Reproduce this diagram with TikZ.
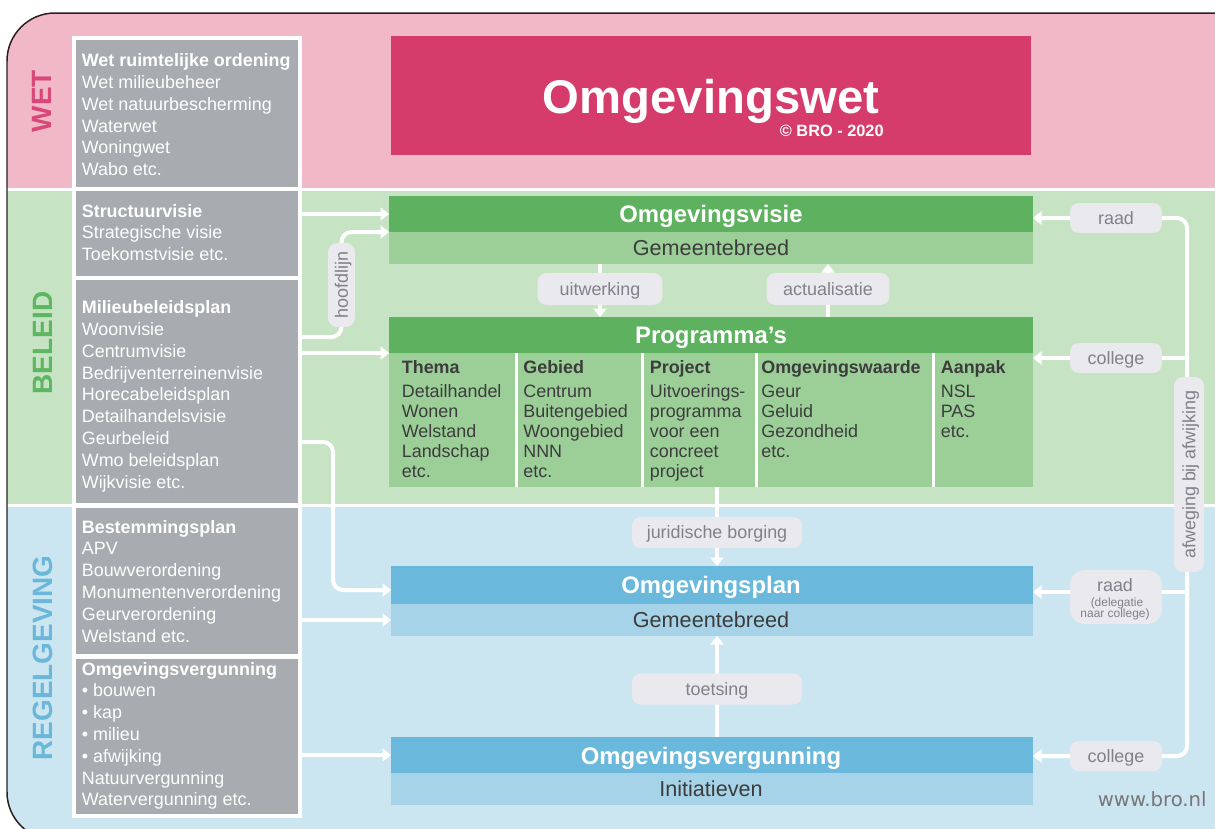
\documentclass[tikz,border=0pt]{standalone}
\usepackage{fontspec}
\setmainfont{Liberation Sans}
\newfontfamily\urlfont{DejaVu Sans}
\usetikzlibrary{arrows.meta,fit}
\pgfdeclarelayer{bg}
\pgfdeclarelayer{lines}
\pgfsetlayers{bg,lines,main}
\definecolor{pinkbg}{HTML}{F1B8C8}
\definecolor{greenbg}{HTML}{C6E3C3}
\definecolor{bluebg}{HTML}{CBE6F1}
\definecolor{wetbox}{HTML}{D63C6B}
\definecolor{dkgreen}{HTML}{5DB15F}
\definecolor{ltgreen}{HTML}{9CCF98}
\definecolor{dkblue}{HTML}{6AB8DC}
\definecolor{ltblue}{HTML}{A6D3E8}
\definecolor{graybox}{HTML}{A8ABB0}
\definecolor{pillbg}{HTML}{E9E9EE}
\definecolor{pilltxt}{HTML}{808189}
\definecolor{darktxt}{HTML}{3C3C3C}
\definecolor{wetred}{HTML}{D9467A}
\definecolor{beleidgreen}{HTML}{5DB660}
\definecolor{regblue}{HTML}{6BB7DA}
\definecolor{framecol}{HTML}{2B1F1F}
\definecolor{urlgray}{HTML}{777777}
\tikzset{
  fitbox/.style={inner sep=0pt, outer sep=0pt, draw=none},
  gtxt/.style={anchor=base west, inner sep=0pt, text=white, font=\fontsize{10.2pt}{12pt}\selectfont},
  gbold/.style={gtxt, font=\fontsize{10.2pt}{12pt}\selectfont\bfseries},
  ttxt/.style={anchor=base west, inner sep=0pt, text=darktxt, font=\fontsize{10.2pt}{12pt}\selectfont},
  tbold/.style={ttxt, font=\fontsize{10.2pt}{12pt}\selectfont\bfseries},
  pill/.style={fill=pillbg, rounded corners=0.18cm, inner sep=0pt, outer sep=0pt, text=pilltxt,
    font=\fontsize{10.2pt}{12pt}\selectfont, text height=7.3pt, text depth=0pt},
  ptxt/.style={anchor=base, inner sep=0pt, text=pilltxt},
  conn/.style={draw=white, line width=0.08cm, rounded corners=0.2cm},
  arr/.style={conn, -{Triangle[width=0.26cm,length=0.17cm]}},
  hd/.style={anchor=base, inner sep=0pt, text=white, font=\fontsize{13.6pt}{16pt}\selectfont\bfseries},
  sb/.style={anchor=base, inner sep=0pt, text=darktxt, font=\fontsize{12.3pt}{14pt}\selectfont},
  side/.style={rotate=90, inner sep=0pt, font=\fontsize{15.9pt}{18pt}\selectfont\bfseries, text height=11.4pt, text depth=0pt},
  sepline/.style={draw=white, line width=0.06cm},
}
\begin{document}
\begin{tikzpicture}[x=0.02cm,y=-0.02cm]
\useasboundingbox (0,0) rectangle (1215,829);
\begin{pgfonlayer}{bg}
\fill[white] (0,0) rectangle (1215,829);
\begin{scope}
\clip[rounded corners=0.96cm] (1320,13) -- (7,13) -- (7,840) -- (1320,840) -- cycle;
\fill[pinkbg] (0,0) rectangle (1320,187.5);
\fill[greenbg] (0,191) rectangle (1320,503.5);
\fill[bluebg] (0,507) rectangle (1320,850);
\end{scope}
\draw[framecol, line width=0.03cm, rounded corners=0.96cm] (1320,13) -- (7,13) -- (7,840) -- (1320,840);
% left column
\node[fitbox, fill=white, fit={(72,36) (302,818)}] (col) {};
\node[fitbox, fill=graybox, fit={(76,40) (298,187)}] (g1) {};
\node[fitbox, fill=graybox, fit={(76,191) (298,276)}] (g2) {};
\node[fitbox, fill=graybox, fit={(76,280) (298,503)}] (g3) {};
\node[fitbox, fill=graybox, fit={(76,508) (298,654)}] (g4) {};
\node[fitbox, fill=graybox, fit={(76,659) (298,814)}] (g5) {};
% central bars
\node[fitbox, fill=wetbox, fit={(391,36) (1031,155)}] (wet) {};
\node[fitbox, fill=dkgreen, fit={(389,196) (1033,232)}] (visie) {};
\node[fitbox, fill=ltgreen, fit={(389,232) (1033,264)}] (visieSub) {};
\node[fitbox, fill=dkgreen, fit={(389,317) (1033,353)}] (prog) {};
\node[fitbox, fill=ltgreen, fit={(389,353) (1033,487)}] (progTab) {};
\node[fitbox, fill=dkblue, fit={(391,566) (1033,604)}] (plan) {};
\node[fitbox, fill=ltblue, fit={(391,604) (1033,636)}] (planSub) {};
\node[fitbox, fill=dkblue, fit={(391,737) (1033,773)}] (verg) {};
\node[fitbox, fill=ltblue, fit={(391,773) (1033,805)}] (vergSub) {};
\foreach \sx in {516,642,756,933}
  \draw[sepline] (progTab.north -| \sx,0) -- (progTab.south -| \sx,0);
\end{pgfonlayer}

% side labels
\node[side, text=wetred] (lwet) at (41,101) {WET};
\node[side, text=beleidgreen] (lbel) at (42,343) {BELEID};
\node[side, text=regblue] (lreg) at (42,658) {REGELGEVING};

% gray column texts
\node[gbold] (w0) at (81.5,66.7) {Wet ruimtelijke ordening};
\foreach \t [count=\i] in {Wet milieubeheer, Wet natuurbescherming, Waterwet, Woningwet, Wabo etc.}
  \node[gtxt] (w\i) at (81.5,{66.7+21.8*\i}) {\t};
\node[gbold] (s0) at (81.5,217) {Structuurvisie};
\foreach \t [count=\i] in {Strategische visie, Toekomstvisie etc.}
  \node[gtxt] (s\i) at (81.5,{217+21.8*\i}) {\t};
\node[gbold] (m0) at (81.5,313.6) {Milieubeleidsplan};
\foreach \t [count=\i] in {Woonvisie, Centrumvisie, Bedrijventerreinenvisie, Horecabeleidsplan, Detailhandelsvisie, Geurbeleid, Wmo beleidsplan, Wijkvisie etc.}
  \node[gtxt] (m\i) at (81.5,{313.6+21.8*\i}) {\t};
\node[gbold] (b0) at (81.5,533) {Bestemmingsplan};
\foreach \t [count=\i] in {APV, Bouwverordening, Monumentenverordening, Geurverordening, Welstand etc.}
  \node[gtxt] (b\i) at (81.5,{533+21.8*\i}) {\t};
\node[gbold] (o0) at (81.5,675) {Omgevingsvergunning};
\foreach \t [count=\i] in {• bouwen, • kap, • milieu, • afwijking, Natuurvergunning, Watervergunning etc.}
  \node[gtxt] (o\i) at (81.5,{675+21.8*\i}) {\t};

% titles
\node[anchor=base, inner sep=0pt, text=white, font=\fontsize{26.9pt}{30pt}\selectfont\bfseries] (wetT) at (711,113) {Omgevingswet};
\node[anchor=base east, inner sep=0pt, text=white, font=\fontsize{9.3pt}{11pt}\selectfont\bfseries] (copy) at (884,136) {© BRO - 2020};
\node[hd] (visieT) at (711,222.5) {Omgevingsvisie};
\node[sb] (visieS) at (711,255.8) {Gemeentebreed};
\node[hd] (progT) at (711,343.5) {Programma’s};
\node[hd] (planT) at (711,593.5) {Omgevingsplan};
\node[sb] (planS) at (711,627.8) {Gemeentebreed};
\node[hd] (vergT) at (711,764) {Omgevingsvergunning};
\node[sb] (vergS) at (711,796.8) {Initiatieven};

% programma table
\node[tbold] (c1h) at (401.5,373) {Thema};
\foreach \t [count=\i] in {Detailhandel, Wonen, Welstand, Landschap, etc.}
  \node[ttxt] (c1\i) at (401.5,{377+20*\i}) {\t};
\node[tbold] (c2h) at (523,373) {Gebied};
\foreach \t [count=\i] in {Centrum, Buitengebied, Woongebied, NNN, etc.}
  \node[ttxt] (c2\i) at (523,{377+20*\i}) {\t};
\node[tbold] (c3h) at (649.5,373) {Project};
\foreach \t [count=\i] in {Uitvoerings-, programma, voor een, concreet, project}
  \node[ttxt] (c3\i) at (649.5,{377+20*\i}) {\t};
\node[tbold] (c4h) at (761,373) {Omgevingswaarde};
\foreach \t [count=\i] in {Geur, Geluid, Gezondheid, etc.}
  \node[ttxt] (c4\i) at (761,{377+20*\i}) {\t};
\node[tbold] (c5h) at (940.5,373) {Aanpak};
\foreach \t [count=\i] in {NSL, PAS, etc.}
  \node[ttxt] (c5\i) at (940.5,{377+20*\i}) {\t};

% pills
\node[pill, minimum width=2.5cm, minimum height=0.64cm] (uitw) at (600,289) {uitwerking};
\node[pill, minimum width=2.46cm, minimum height=0.64cm] (actu) at (828,289) {actualisatie};
\node[pill, minimum width=3.4cm, minimum height=0.62cm] (jur) at (717,532.5) {juridische borging};
\node[pill, minimum width=3.4cm, minimum height=0.62cm] (toets) at (717,689) {toetsing};
\node[pill, rotate=90, minimum width=1.68cm, minimum height=0.54cm] (hoofd) at (341.5,285) {hoofdlijn};
\node[pill, rotate=90, minimum width=3.9cm, minimum height=0.6cm] (afw) at (1189,474.5) {afweging bij afwijking};
\node[pill, minimum width=1.84cm, minimum height=0.6cm] (raad1) at (1116,218) {raad};
\node[pill, minimum width=1.84cm, minimum height=0.6cm] (college1) at (1116,358) {college};
\node[pill, rounded corners=0.3cm, minimum width=1.84cm, minimum height=1.08cm] (raad2) at (1116,597) {};
\node[ptxt, font=\fontsize{10.2pt}{12pt}\selectfont] (raad2a) at (1115,591) {raad};
\node[ptxt, font=\fontsize{6.8pt}{7pt}\selectfont] (raad2b) at (1117,606) {(delegatie};
\node[ptxt, font=\fontsize{6.8pt}{7pt}\selectfont] (raad2c) at (1115,617.5) {naar college)};
\node[pill, minimum width=1.84cm, minimum height=0.6cm] (college2) at (1116,756) {college};

\node[anchor=base east, inner sep=0pt, text=urlgray, font=\urlfont\fontsize{11.2pt}{13pt}\selectfont] (url) at (1207,806) {www.bro.nl};

% connectors
\coordinate (bendA) at (333,442);
\coordinate (planIn) at (391,590);
\coordinate (hlLow) at (302,337);
\coordinate (trunkTop) at (1187,218);
\coordinate (trunkBot) at (1187,756);
\coordinate (r2) at (1187,592);
\begin{pgfonlayer}{lines}
\draw[arr] (col.east |- visie.west) -- (visie.west);
\draw[arr] (hlLow) -| (hoofd.center) |- (visie.south west);
\draw[arr] (col.east |- prog.south west) -- (prog.south west);
\draw[arr] (col.east |- bendA) -- (bendA) |- (planIn);
\draw[arr] (col.east |- planSub.west) -- (planSub.west);
\draw[arr] (col.east |- verg.west) -- (verg.west);
\draw[arr] (uitw |- visieSub.south) -- (uitw |- prog.north);
\draw[arr] (actu |- prog.north) -- (actu |- visieSub.south);
\draw[arr] (jur |- progTab.south) -- (jur |- plan.north);
\draw[arr] (toets |- verg.north) -- (toets |- planSub.south);
\draw[arr] (trunkTop |- afw.center) -- (trunkTop) -- (trunkTop -| visie.east);
\draw[arr] (trunkTop |- afw.center) -- (trunkBot) -- (trunkBot -| verg.east);
\draw[arr] (trunkTop |- college1) -- (college1 -| prog.east);
\draw[arr] (r2) -- (r2 -| plan.east);
\end{pgfonlayer}
\end{tikzpicture}
\end{document}
